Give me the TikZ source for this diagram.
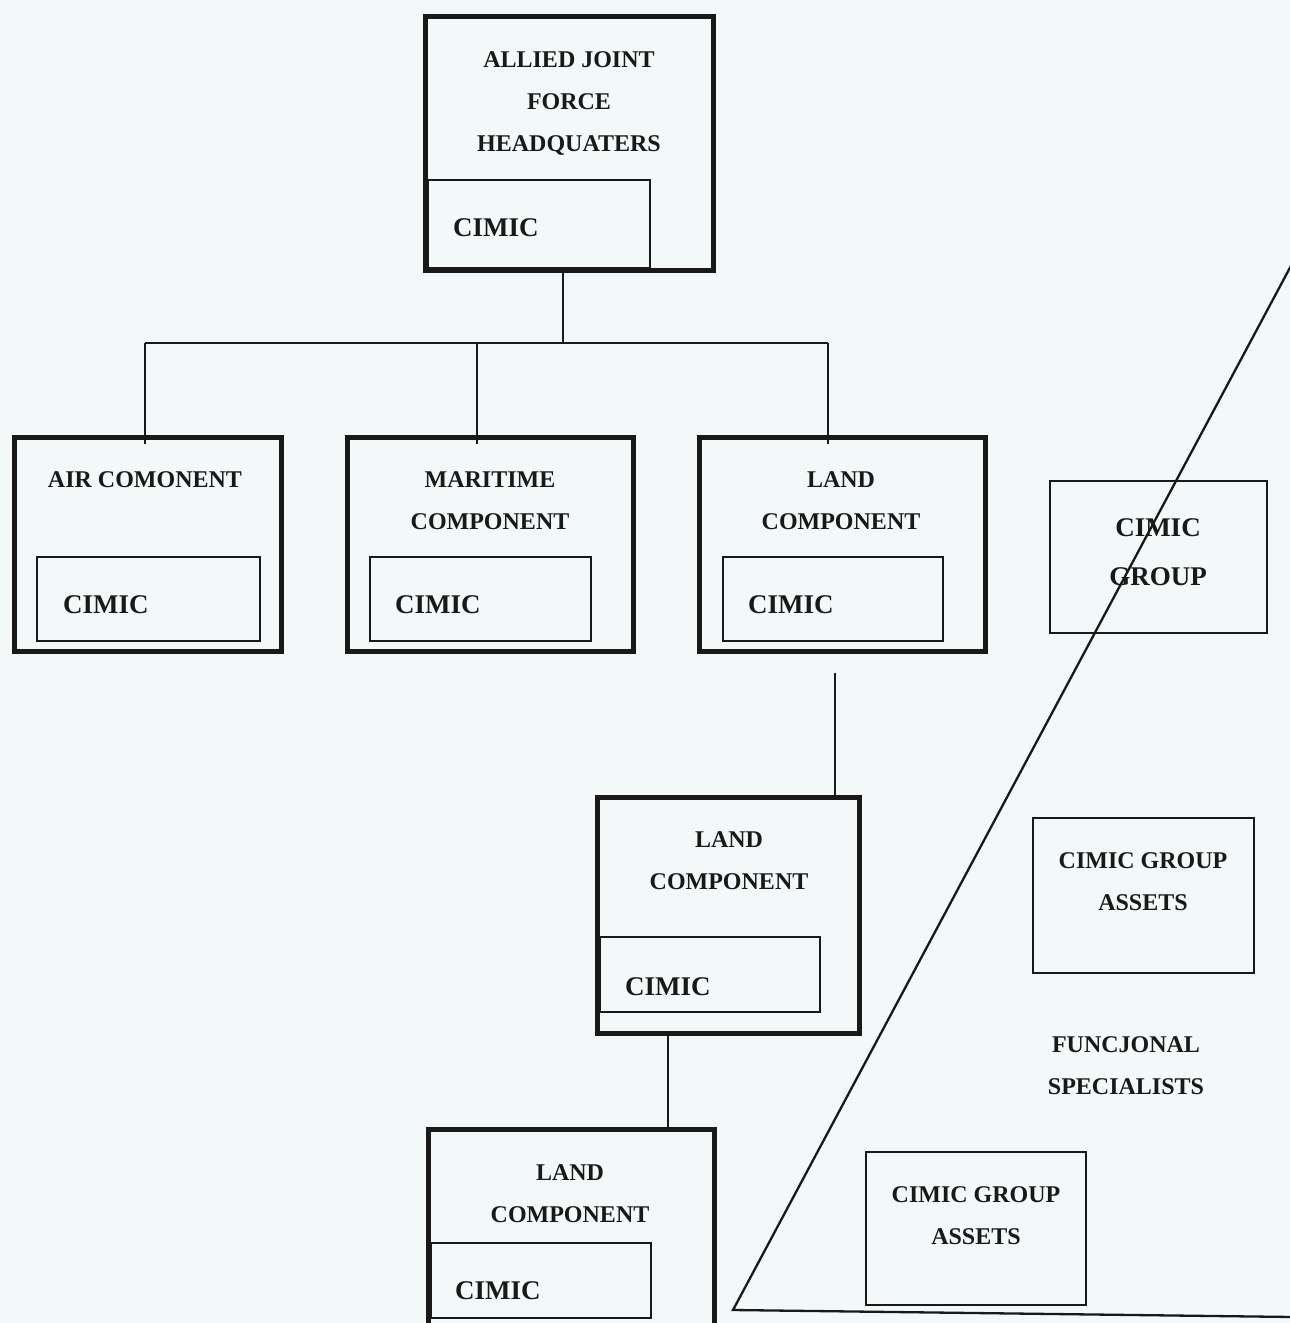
\documentclass[tikz,border=0pt]{standalone}
\usepackage{fontspec}
\setmainfont{Liberation Serif}
\definecolor{paper}{RGB}{243,248,249}
\definecolor{ink}{RGB}{25,25,25}
\begin{document}
\begin{tikzpicture}[x=1pt,y=-1pt,
  outerbox/.style={draw=ink,line width=5pt,inner sep=0pt},
  innerbox/.style={draw=ink,line width=2pt,inner sep=0pt,fill=paper},
  thinbox/.style={draw=ink,line width=2.4pt,inner sep=0pt},
  lbl/.style={font=\fontsize{24}{42}\selectfont\bfseries,text=ink,align=center,inner sep=0pt},
  cim/.style={font=\fontsize{27}{27}\selectfont\bfseries,text=ink,anchor=west,inner sep=0pt},
  big/.style={font=\fontsize{27}{49}\selectfont\bfseries,text=ink,align=center,inner sep=0pt},
  conn/.style={draw=ink,line width=1.8pt},
  tri/.style={draw=ink,line width=2.3pt,line join=miter}]
\useasboundingbox (0,0) rectangle (1290,1323);
\fill[paper] (0,0) rectangle (1290,1323);
\clip (0,0) rectangle (1290,1323);

% boxes
\node[outerbox,minimum width=288pt,minimum height=254pt] (hq) at (569,143) {};
\node[innerbox,minimum width=222pt,minimum height=88pt] (hqc) at (539,224) {};
\node[outerbox,minimum width=267pt,minimum height=214pt] (air) at (147.5,544) {};
\node[innerbox,minimum width=223pt,minimum height=84pt] (airc) at (148.5,599) {};
\node[outerbox,minimum width=286pt,minimum height=214pt] (mar) at (490,544) {};
\node[innerbox,minimum width=221pt,minimum height=84pt] (marc) at (480.5,599) {};
\node[outerbox,minimum width=286pt,minimum height=214pt] (land) at (842,544) {};
\node[innerbox,minimum width=220pt,minimum height=84pt] (landc) at (833,599) {};
\node[thinbox,minimum width=217pt,minimum height=152pt] (grp) at (1158.5,557) {};
\node[outerbox,minimum width=262pt,minimum height=236pt] (land2) at (728,915) {};
\node[innerbox,minimum width=220pt,minimum height=75pt] (land2c) at (710,974.5) {};
\node[outerbox,minimum width=286pt,minimum height=201pt] (land3) at (571,1229.5) {};
\node[innerbox,minimum width=220pt,minimum height=75pt] (land3c) at (541,1280.5) {};
\node[thinbox,minimum width=221pt,minimum height=155pt] (as1) at (1143.5,895.5) {};
\node[thinbox,minimum width=220pt,minimum height=153pt] (as2) at (976,1228.5) {};

% labels
\node[lbl] (hqt) at (569,103) {ALLIED JOINT\\FORCE\\HEADQUATERS};
\node[cim] (hqct) at (453,228) {CIMIC};
\node[lbl] (airt) at (145,480) {AIR COMONENT};
\node[cim] (airct) at (63,605) {CIMIC};
\node[lbl] (mart) at (490,501) {MARITIME\\COMPONENT};
\node[cim] (marct) at (395,605) {CIMIC};
\node[lbl] (landt) at (841,501) {LAND\\COMPONENT};
\node[cim] (landct) at (748,605) {CIMIC};
\node[big] (grpt) at (1158,552) {CIMIC\\GROUP};
\node[lbl] (land2t) at (729,861) {LAND\\COMPONENT};
\node[cim] (land2ct) at (625,987) {CIMIC};
\node[lbl] (land3t) at (570,1194) {LAND\\COMPONENT};
\node[cim] (land3ct) at (455,1291) {CIMIC};
\node[lbl] (as1t) at (1143,882) {CIMIC GROUP\\ASSETS};
\node[lbl] (fst) at (1126,1066) {FUNCJONAL\\SPECIALISTS};
\node[lbl] (as2t) at (976,1216) {CIMIC GROUP\\ASSETS};

% connectors
\coordinate (bus) at (563,343);
\coordinate (bL) at (145,343);
\coordinate (bM) at (477,343);
\coordinate (bR) at (828,343);
\draw[conn] (hq.south -| bus) -- (bus);
\draw[conn] (bL) -- (bR);
\draw[conn] (bL) -- (bL |- air.north) -- ++(0,9);
\draw[conn] (bM) -- (bM |- mar.north) -- ++(0,9);
\draw[conn] (bR) -- (bR |- land.north) -- ++(0,9);
\coordinate (c1) at (835,673);
\draw[conn] (c1) -- (c1 |- land2.north);
\coordinate (c2) at (668,1033);
\draw[conn] (c2) -- (c2 |- land3.north);

% triangle
\coordinate (t1) at (1293,262);
\coordinate (t2) at (733,1310);
\coordinate (t3) at (1293,1317);
\draw[tri] (t1) -- (t2) -- (t3);
\end{tikzpicture}
\end{document}
